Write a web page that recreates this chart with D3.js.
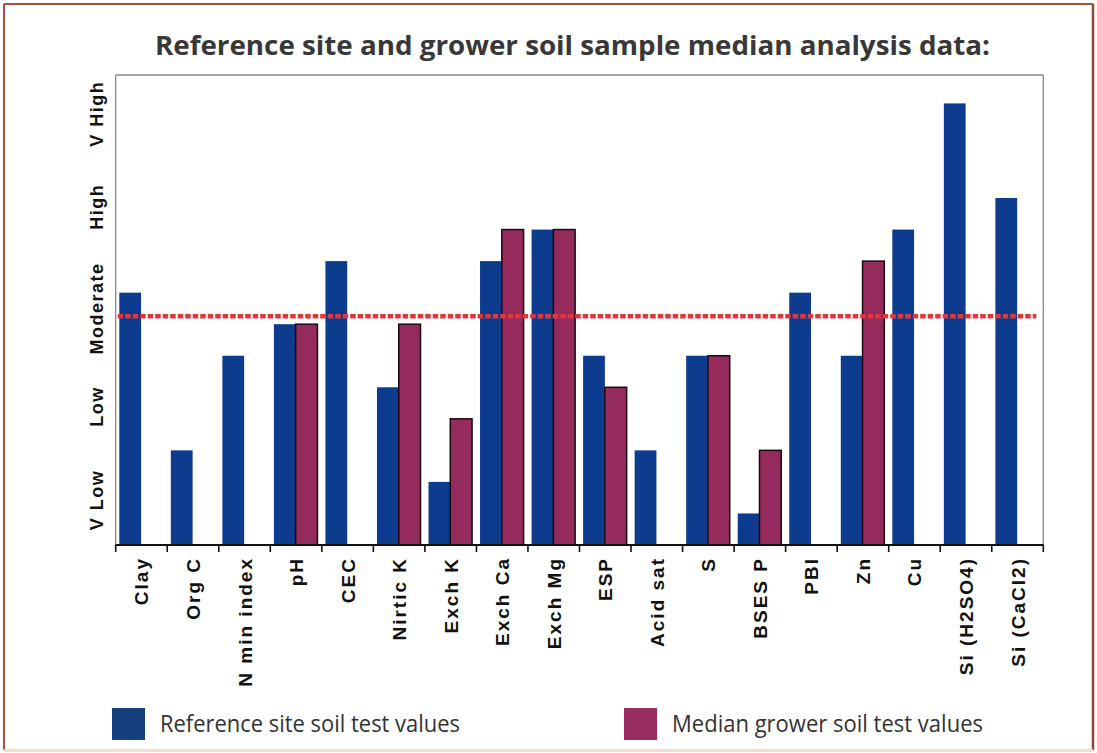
<!DOCTYPE html>
<html>
<head>
<meta charset="utf-8">
<script src="https://cdn.jsdelivr.net/npm/d3@7"></script>
<style>
  html, body { margin: 0; padding: 0; background: #fff; }
  svg { display: block; }
</style>
</head>
<body>
<svg id="chart" width="1097" height="753"></svg>
<script>
// ---- Data ----
const categories = ["Clay","Org C","N min index","pH","CEC","Nirtic K","Exch K","Exch Ca","Exch Mg","ESP","Acid sat","S","BSES P","PBI","Zn","Cu","Si (H2SO4)","Si (CaCl2)"];
const referenceValues = [8,3,6,7,9,5,2,9,10,6,3,6,1,8,6,10,14,11];
const growerValues = [null,null,null,7,null,7,4,10,10,5,null,6,3,null,9,null,null,null];
const levelLabels = ["V Low","Low","Moderate","High","V High"];
const levelPositions = [1.43,4.39,7.5,10.72,13.67];
const thresholdValue = 7.25;
const seriesNames = ["Reference site soil test values","Median grower soil test values"];
const titleText = "Reference site and grower soil sample median analysis data:";

// ---- Layout ----
const svg = d3.select("#chart");
const plot = {left: 115.7, right: 1043.3, top: 75, bottom: 545};
const blue = "#0d3b8d", purple = "#952a5d";

// frame
svg.append("line").attr("x1",4).attr("x2",4).attr("y1",4).attr("y2",750).attr("stroke","#a0533e").attr("stroke-width",2);
svg.append("line").attr("x1",4).attr("x2",1093).attr("y1",4).attr("y2",4).attr("stroke","#a0533e").attr("stroke-width",2);
svg.append("line").attr("x1",1093).attr("x2",1093).attr("y1",4).attr("y2",750).attr("stroke","#8e4a37").attr("stroke-width",2.5);
svg.append("line").attr("x1",4).attr("x2",1093).attr("y1",750.5).attr("y2",750.5).attr("stroke","#f6dccb").attr("stroke-width",3);

// scales
const x0 = d3.scaleBand().domain(categories).range([plot.left, plot.right]).padding(0);
const x1 = d3.scaleBand().domain(["ref","grower"]).range([x0.bandwidth()*0.07, x0.bandwidth()*0.915]);
const y = d3.scaleLinear().domain([0, 14.9]).range([plot.bottom, plot.top]);

// title
const title = svg.append("text")
  .attr("x", 572.5).attr("y", 55)
  .attr("text-anchor","middle")
  .attr("font-family","'Open Sans', 'DejaVu Sans', sans-serif")
  .attr("font-weight","bold")
  .attr("font-size", 27)
  .attr("fill","#383838")
  .attr("textLength", 835)
  .attr("lengthAdjust","spacingAndGlyphs")
  .text(titleText);

// plot frame (top, right, left gray)
svg.append("line").attr("x1",plot.left).attr("x2",plot.right).attr("y1",plot.top).attr("y2",plot.top).attr("stroke","#8a8a8a").attr("stroke-width",1.3);
svg.append("line").attr("x1",plot.right).attr("x2",plot.right).attr("y1",plot.top).attr("y2",plot.bottom).attr("stroke","#8a8a8a").attr("stroke-width",1.3);
svg.append("line").attr("x1",plot.left).attr("x2",plot.left).attr("y1",plot.top).attr("y2",plot.bottom).attr("stroke","#8a8a8a").attr("stroke-width",1.3);

// bars
const groups = svg.append("g").selectAll("g").data(categories).join("g")
  .attr("transform", d => `translate(${x0(d)},0)`);

groups.append("rect")
  .attr("x", x1("ref"))
  .attr("width", x1.bandwidth())
  .attr("y", (d,i) => y(referenceValues[i]))
  .attr("height", (d,i) => y(0) - y(referenceValues[i]))
  .attr("fill", blue);

groups.filter((d,i) => growerValues[i] !== null).append("rect")
  .attr("x", x1("grower"))
  .attr("width", x1.bandwidth())
  .attr("y", d => y(growerValues[categories.indexOf(d)]))
  .attr("height", d => y(0) - y(growerValues[categories.indexOf(d)]))
  .attr("fill", purple)
  .attr("stroke", "#1a0a10")
  .attr("stroke-width", 1.5);

// threshold dotted line
svg.append("line")
  .attr("x1", plot.left + 2).attr("x2", plot.right - 7)
  .attr("y1", y(thresholdValue)).attr("y2", y(thresholdValue))
  .attr("stroke", "#e3363a").attr("stroke-width", 4.5)
  .attr("stroke-dasharray", "5.5,2");

// x axis
const xAxisG = svg.append("g");
xAxisG.append("line").attr("x1",plot.left).attr("x2",plot.right).attr("y1",plot.bottom).attr("y2",plot.bottom).attr("stroke","#111").attr("stroke-width",2);
const tickXs = categories.map(c => x0(c)).concat([plot.right]);
xAxisG.selectAll("line.tick").data(tickXs).join("line").attr("class","tick")
  .attr("x1", d => d).attr("x2", d => d)
  .attr("y1", plot.bottom).attr("y2", plot.bottom + 7)
  .attr("stroke","#111").attr("stroke-width",1.6);

xAxisG.selectAll("text").data(categories).join("text")
  .attr("transform", d => `translate(${x0(d) + x0.bandwidth()/2 + 7},${plot.bottom + 12}) rotate(-90)`)
  .attr("text-anchor","end")
  .attr("font-family","'Liberation Sans', Arial, sans-serif")
  .attr("font-weight","bold")
  .attr("font-size", 19)
  .attr("letter-spacing", 2)
  .attr("fill","#111")
  .text(d => d);

// y level labels
svg.append("g").selectAll("text").data(levelLabels).join("text")
  .attr("transform", (d,i) => `translate(${103},${y(levelPositions[i])}) rotate(-90)`)
  .attr("text-anchor","middle")
  .attr("font-family","'Liberation Sans', Arial, sans-serif")
  .attr("font-weight","bold")
  .attr("font-size", 18)
  .attr("letter-spacing", 1.5)
  .attr("fill","#111")
  .text(d => d);

// legend
const legendItems = [
  {name: seriesNames[0], color: "#163f7e", x: 112, tx: 160, w: 300},
  {name: seriesNames[1], color: "#982d62", x: 624, tx: 672, w: 311}
];
const lg = svg.append("g").selectAll("g").data(legendItems).join("g");
lg.append("rect").attr("x", d => d.x).attr("y", 708).attr("width", 33).attr("height", 32).attr("fill", d => d.color);
lg.append("text")
  .attr("x", d => d.tx).attr("y", 732)
  .attr("font-family","'Open Sans', 'DejaVu Sans', sans-serif")
  .attr("font-size", 23)
  .attr("fill","#333")
  .attr("textLength", d => d.w)
  .attr("lengthAdjust","spacingAndGlyphs")
  .text(d => d.name);
</script>
</body>
</html>
